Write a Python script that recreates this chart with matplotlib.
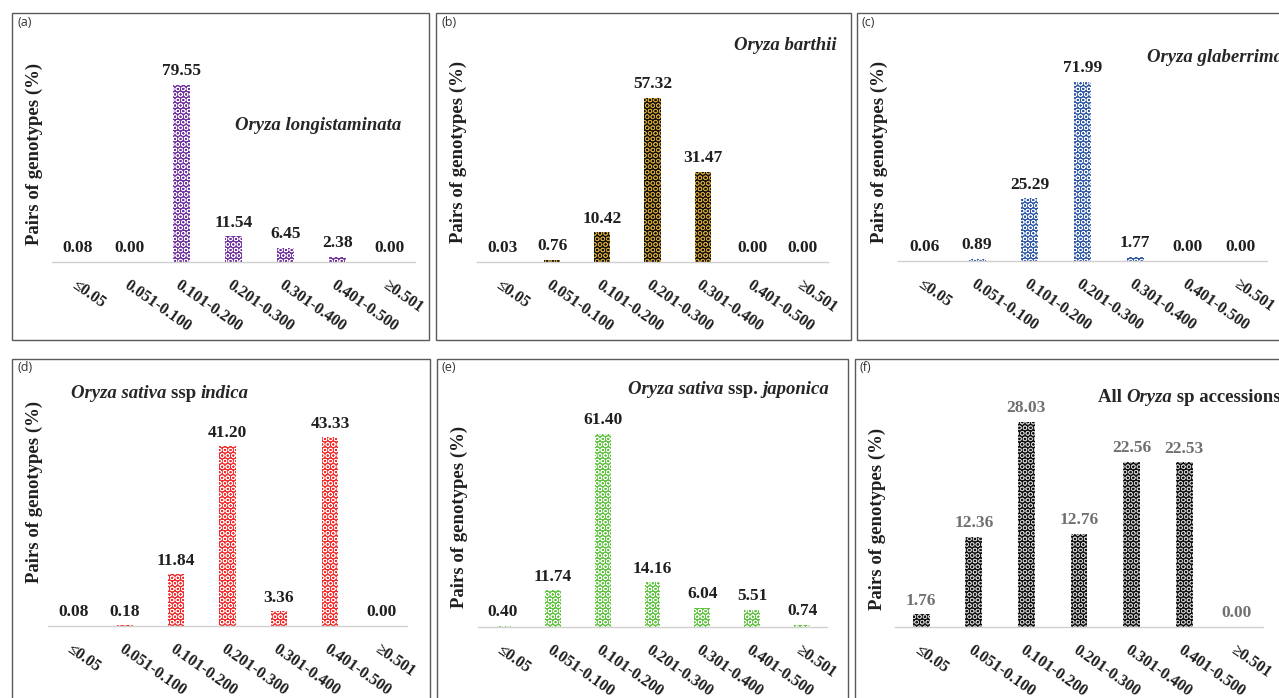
import numpy as np
import matplotlib
matplotlib.use("Agg")
import matplotlib.pyplot as plt
from matplotlib.patches import Rectangle

# data
categories = ["≤0.05", "0.051-0.100", "0.101-0.200", "0.201-0.300",
              "0.301-0.400", "0.401-0.500", "≥0.501"]
longistaminata = [0.08, 0.00, 79.55, 11.54, 6.45, 2.38, 0.00]
barthii = [0.03, 0.76, 10.42, 57.32, 31.47, 0.00, 0.00]
glaberrima = [0.06, 0.89, 25.29, 71.99, 1.77, 0.00, 0.00]
indica = [0.08, 0.18, 11.84, 41.20, 3.36, 43.33, 0.00]
japonica = [0.40, 11.74, 61.40, 14.16, 6.04, 5.51, 0.74]
all_accessions = [1.76, 12.36, 28.03, 12.76, 22.56, 22.53, 0.00]

W, H = 1279, 698
SERIF = ["Liberation Serif", "DejaVu Serif"]
plt.rcParams["hatch.linewidth"] = 0.5

fig = plt.figure(figsize=(W / 100, H / 100), dpi=100)
fig.patch.set_facecolor("white")


def fx(px):
    return px / W


def fy(py):
    return 1 - py / H


# panel layout in pixels: box, axes (left, right, top, baseline), ylim top,
# ylabel centre, title pieces, title anchor
panels = [
    dict(tag="(a)", values=longistaminata, face="#7030A0", hatch="white",
         box=(12, 13, 429, 340), ax=(52, 415, 40, 262), ymax=99.5, ylab_y=154,
         title=[("Oryza longistaminata", "italic")], title_xy=(401, 126), ha="right",
         val_color="#1f1f1f"),
    dict(tag="(b)", values=barthii, face="#111111", hatch="#D6A531",
         box=(436, 13, 851, 340), ax=(477, 828, 40, 262), ymax=77.6, ylab_y=152,
         title=[("Oryza barthii", "italic")], title_xy=(837, 45), ha="right",
         val_color="#1f1f1f"),
    dict(tag="(c)", values=glaberrima, face="#2E58A6", hatch="white",
         box=(857, 13, 1290, 340), ax=(898, 1267, 40, 261), ymax=88.9, ylab_y=152,
         title=[("Oryza glaberrima", "italic")], title_xy=(1147, 58), ha="left",
         val_color="#1f1f1f"),
    dict(tag="(d)", values=indica, face="#F22A2A", hatch="white",
         box=(12, 359, 430, 720), ax=(48, 407, 395, 626), ymax=53.0, ylab_y=492,
         title=[("Oryza sativa ", "italic"), ("ssp ", "normal"), ("indica", "italic")],
         title_xy=(71, 393), ha="left", val_color="#1f1f1f"),
    dict(tag="(e)", values=japonica, face="#5EC23E", hatch="white",
         box=(437, 359, 848, 720), ax=(478, 827, 395, 627), ymax=73.8, ylab_y=517,
         title=[("Oryza sativa ", "italic"), ("ssp. ", "normal"), ("japonica", "italic")],
         title_xy=(829, 390), ha="right", val_color="#1f1f1f"),
    dict(tag="(f)", values=all_accessions, face="#111111", hatch="#C8C8C8",
         box=(855, 359, 1290, 720), ax=(895, 1263, 395, 627), ymax=31.7, ylab_y=519,
         title=[("All ", "normal"), ("Oryza", "italic"), (" sp accessions", "normal")],
         title_xy=(1098, 397), ha="left", val_color="#707070"),
]

renderer = fig.canvas.get_renderer()


def rich_title(pieces, x_px, y_px, ha):
    texts = []
    x = fx(x_px)
    for s, style in pieces:
        t = fig.text(x, fy(y_px), s, fontsize=13.5, fontweight="bold", style=style,
                     family=SERIF, color="#262626", ha="left", va="center")
        bb = t.get_window_extent(renderer=renderer)
        x += bb.width / W
        texts.append(t)
    if ha == "right":
        shift = fx(x_px) - x
        for t in texts:
            px, py = t.get_position()
            t.set_position((px + shift, py))


xpos = np.arange(len(categories))

for p in panels:
    bx0, by0, bx1, by1 = p["box"]
    fig.patches.append(Rectangle((fx(bx0), fy(by1)), fx(bx1 - bx0), (by1 - by0) / H,
                                 transform=fig.transFigure, fill=False,
                                 edgecolor="#5a5a5a", linewidth=1.0, zorder=0))
    fig.text(fx(bx0 + 5), fy(by0 + 9), p["tag"], fontsize=9,
             family=["Open Sans", "DejaVu Sans"], color="#333333", ha="left", va="center")

    l, r, t, b = p["ax"]
    ax = fig.add_axes([fx(l), fy(b), fx(r - l), (b - t) / H])
    ax.set_facecolor("none")
    ax.bar(xpos, p["values"], width=0.32, color=p["face"],
           edgecolor=p["hatch"], hatch="OOO", linewidth=0)
    ax.set_xlim(-0.5, len(categories) - 0.5)
    ax.set_ylim(0, p["ymax"])

    for xi, v in zip(xpos, p["values"]):
        ax.annotate(f"{v:.2f}", (xi, v), xytext=(0, 4), textcoords="offset points",
                    ha="center", va="bottom", fontsize=12.5, fontweight="bold",
                    family=SERIF, color=p["val_color"])

    for side in ["top", "right", "left"]:
        ax.spines[side].set_visible(False)
    ax.spines["bottom"].set_color("#D0D0D0")
    ax.spines["bottom"].set_linewidth(1.0)
    ax.set_yticks([])
    ax.set_xticks(xpos)
    ax.set_xticklabels(categories, rotation=-35, ha="left", va="top",
                       rotation_mode="anchor", fontsize=11.5, fontweight="bold",
                       family=SERIF, color="#1f1f1f")
    ax.tick_params(axis="x", length=0, pad=11)

    ax.set_ylabel("Pairs of genotypes (%)", fontsize=13.5, fontweight="bold",
                  family=SERIF, color="#1f1f1f")
    ylab_frac = (b - p["ylab_y"]) / (b - t)
    ax.yaxis.set_label_coords(-(l - (bx0 + 31)) / (r - l), ylab_frac)

    rich_title(p["title"], p["title_xy"][0], p["title_xy"][1], p["ha"])

fig.savefig("out.png", dpi=100)
